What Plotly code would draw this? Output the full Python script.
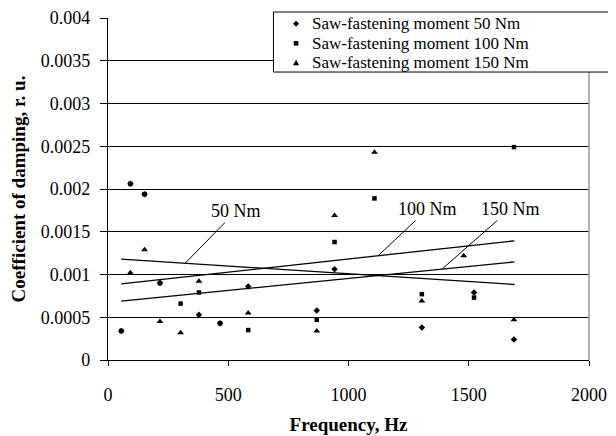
import plotly.graph_objects as go

# ---- data ----
freq_50 = [55, 93, 152, 216, 378, 466, 583, 868, 942, 1305, 1522, 1688]
damp_50 = [0.00034, 0.00206, 0.00194, 0.00090, 0.00053, 0.00043, 0.00086, 0.00058, 0.00106, 0.00038, 0.00079, 0.00024]

freq_100 = [55, 93, 152, 216, 302, 378, 466, 583, 868, 942, 1108, 1305, 1522, 1688]
damp_100 = [0.00034, 0.00206, 0.00194, 0.00090, 0.00066, 0.00079, 0.00043, 0.00035, 0.00047, 0.00138, 0.00189, 0.00077, 0.00073, 0.00249]

freq_150 = [93, 152, 216, 302, 378, 583, 868, 942, 1108, 1305, 1479, 1688]
damp_150 = [0.00102, 0.00129, 0.00045, 0.00032, 0.00092, 0.00055, 0.00034, 0.00169, 0.00243, 0.00069, 0.00122, 0.00047]

trend_x = [55, 1690]
trend_50 = [0.00118, 0.000883]
trend_100 = [0.000891, 0.001394]
trend_150 = [0.000689, 0.001148]

series_names = ["Saw-fastening moment 50 Nm", "Saw-fastening moment 100 Nm", "Saw-fastening moment 150 Nm"]
trend_labels = ["50 Nm", "100 Nm", "150 Nm"]
trend_label_x = [533, 1330, 1673]
trend_label_y = [0.001743, 0.001766, 0.001766]
trend_head_x = [321, 1123, 1389]

y_tickvals = [0, 0.0005, 0.001, 0.0015, 0.002, 0.0025, 0.003, 0.0035, 0.004]
y_ticktext = ["0", "0.0005", "0.001", "0.0015", "0.002", "0.0025", "0.003", "0.0035", "0.004"]
x_tickvals = [0, 500, 1000, 1500, 2000]

FONT = "Liberation Serif"
symbols = ["diamond", "square", "triangle-up"]
sizes = [5, 4.5, 6]

fig = go.Figure()
for fx, fy, nm, sym, sz in zip((freq_50, freq_100, freq_150), (damp_50, damp_100, damp_150),
                               series_names, symbols, sizes):
    fig.add_trace(go.Scatter(x=fx, y=fy, mode="markers", name=nm, showlegend=False,
                             marker=dict(symbol=sym, size=sz, color="black")))

for ty in (trend_50, trend_100, trend_150):
    fig.add_trace(go.Scatter(x=trend_x, y=ty, mode="lines", showlegend=False,
                             line=dict(color="black", width=1.3), hoverinfo="skip"))

def trend_at(tr, x):
    return tr[0] + (x - trend_x[0]) / (trend_x[1] - trend_x[0]) * (tr[1] - tr[0])

for lab, lx, ly, hx, tr in zip(trend_labels, trend_label_x, trend_label_y, trend_head_x,
                               (trend_50, trend_100, trend_150)):
    fig.add_annotation(x=hx, y=trend_at(tr, hx), ax=lx, ay=ly, axref="x", ayref="y",
                       text=lab, showarrow=True, arrowhead=0, arrowwidth=1, arrowcolor="black",
                       font=dict(family=FONT, size=18, color="black"))

# plot-area right border (grey)
fig.add_shape(type="line", xref="paper", yref="paper", x0=1, x1=1, y0=0, y1=1,
              line=dict(color="#999999", width=1.5))

# ---- hand-made legend box (compact rows as in the reference) ----
fig.add_shape(type="rect", xref="paper", yref="paper", x0=0.344, x1=1.05, y0=0.842, y1=1.0175,
              line=dict(color="black", width=1), fillcolor="white", layer="above")
legend_rows_y = [0.983, 0.926, 0.869]
glyph_paths = [
    "M 0 3 L 3 0 L 0 -3 L -3 0 Z",
    "M -2.3 -2.3 L 2.3 -2.3 L 2.3 2.3 L -2.3 2.3 Z",
    "M -3 -2.4 L 3 -2.4 L 0 3 Z",
]
for ry, nm, gp in zip(legend_rows_y, series_names, glyph_paths):
    fig.add_shape(type="path", xref="paper", yref="paper", xsizemode="pixel", ysizemode="pixel",
                  xanchor=0.391, yanchor=ry, path=gp, fillcolor="black",
                  line=dict(color="black", width=0), layer="above")
    fig.add_annotation(xref="paper", yref="paper", x=0.421, y=ry, xanchor="left", yanchor="middle",
                       text=nm, showarrow=False, borderpad=0,
                       font=dict(family=FONT, size=17, color="black"))

fig.update_layout(
    width=616, height=436,
    margin=dict(l=100, r=35, t=10, b=84, autoexpand=False),
    paper_bgcolor="white", plot_bgcolor="white",
    font=dict(family=FONT, size=18, color="black"),
    showlegend=False,
    xaxis=dict(range=[0, 2000], tickvals=x_tickvals, ticks="outside", ticklen=5,
               tickcolor="black", showline=True, linecolor="black", linewidth=1.3,
               showgrid=False, zeroline=False, automargin=False, ticklabelstandoff=13,
               ticklabeloverflow="allow",
               title=dict(text="<b>Frequency, Hz</b>", font=dict(family=FONT, size=19), standoff=13),
               tickfont=dict(family=FONT, size=18)),
    yaxis=dict(range=[0, 0.004], tickvals=y_tickvals, ticktext=y_ticktext, ticks="outside",
               ticklen=7, tickcolor="black", showline=True, linecolor="black", linewidth=1.3,
               showgrid=True, gridcolor="black", gridwidth=1, zeroline=False, automargin=False,
               ticklabelstandoff=6, ticklabeloverflow="allow",
               title=dict(text="<b>Coefficient of damping, r. u.</b>", font=dict(family=FONT, size=19), standoff=14),
               tickfont=dict(family=FONT, size=18)),
)

fig.write_html("out.html")
